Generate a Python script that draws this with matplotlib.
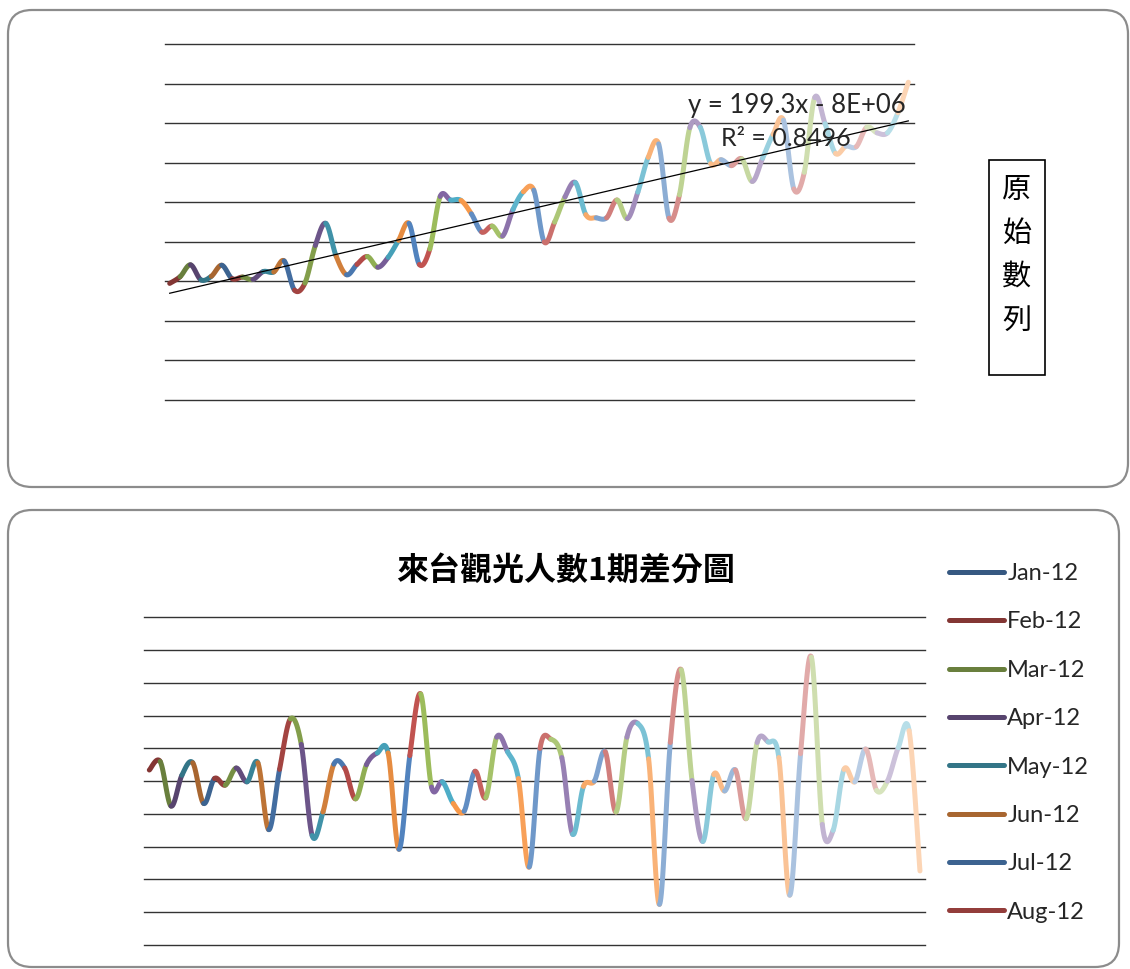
import numpy as np
import pandas as pd
import matplotlib
matplotlib.use("Agg")
import matplotlib.pyplot as plt
from matplotlib.collections import LineCollection
from matplotlib.patches import FancyBboxPatch, Rectangle
from matplotlib.lines import Line2D
from matplotlib.colors import to_rgb

# ---------------------------------------------------------------------------
# Data: monthly visitor arrivals to Taiwan (persons), Jan-2012 onward
# ---------------------------------------------------------------------------
visitors = [
    595000, 612000, 642000, 604000, 613000, 641000, 607000, 611000, 605000, 625000, 624000, 652000,
    578000, 596000, 691000, 747000, 664000, 617000, 643000, 663000, 636000, 661000, 704000, 747000,
    643000, 682000, 815000, 806000, 805000, 771000, 725000, 740000, 715000, 782000, 827000, 831000,
    700000, 750000, 814000, 850000, 769000, 761000, 761000, 806000, 759000, 826000, 914000, 948000,
    760000, 819000, 989000, 990000, 898000, 908000, 893000, 910000, 853000, 912000, 972000, 1008000,
    834000, 876000, 1065000, 999000, 924000, 942000, 941000, 990000, 976000, 976000, 1027000, 1104000,
    967000,
]
n_level = 72                      # months shown in the level chart
months = pd.date_range("2012-01-01", periods=len(visitors), freq="MS")
legend_labels = [d.strftime("%b-%y") for d in months[:8]]

level_ticks = list(range(300000, 1200001, 100000))
diff_ticks = list(range(-250000, 250001, 50000))

trend_text = "y = 199.3x - 8E+06"
r2_text = "R² = 0.8496"
side_label = "原始數列"
diff_title = "來台觀光人數1期差分圖"

# Office accent colours used by "vary colours by point"
accents = ["#4F81BD", "#C0504D", "#9BBB59", "#8064A2", "#4BACC6", "#F79646"]

W, H = 1130, 969
LATIN = ["Lato", "DejaVu Sans"]
CJK = ["Noto Sans CJK TC", "DejaVu Sans"]


def point_color(i, n):
    """Accent colour cycled per point, shaded dark -> light across cycles."""
    base = np.array(to_rgb(accents[i % 6]))
    cycles = (n + 5) // 6
    t = (i // 6) / max(cycles - 1, 1)
    adj = -0.32 + 0.92 * t
    if adj < 0:
        rgb = base * (1 + adj)
    else:
        rgb = base + (1 - base) * adj
    return tuple(np.clip(rgb, 0, 1))


def smooth_segments(y, steps=24):
    """Catmull-Rom style Bezier pieces between consecutive points."""
    y = np.asarray(y, dtype=float)
    n = len(y)
    P = np.column_stack([np.arange(n, dtype=float), y])
    t = np.linspace(0, 1, steps)[:, None]
    segs = []
    for i in range(n - 1):
        p0, p1, p2, p3 = P[max(i - 1, 0)], P[i], P[i + 1], P[min(i + 2, n - 1)]
        c1 = p1 + (p2 - p0) / 6.0
        c2 = p2 - (p3 - p1) / 6.0
        pts = (1 - t) ** 3 * p1 + 3 * (1 - t) ** 2 * t * c1 + 3 * (1 - t) * t ** 2 * c2 + t ** 3 * p2
        segs.append(pts)
    return segs


def colored_line(ax, y, lw=3.6):
    n = len(y)
    segs = smooth_segments(y)
    cols = [point_color(i + 1, n) for i in range(n - 1)]
    lc = LineCollection(segs, colors=cols, linewidths=lw, capstyle="round",
                        joinstyle="round", zorder=3)
    ax.add_collection(lc)


def px_axes(x0, y0, x1, y1):
    return fig.add_axes([x0 / W, 1 - y1 / H, (x1 - x0) / W, (y1 - y0) / H])


def ftext(x, y, s, **kw):
    return fig.text(x / W, 1 - y / H, s, **kw)


fig = plt.figure(figsize=(W / 100, H / 100), dpi=100)
fig.patch.set_facecolor("white")

# panel frames
bg = fig.add_axes([0, 0, 1, 1], zorder=-1)
bg.set_xlim(0, W)
bg.set_ylim(H, 0)
bg.axis("off")
for (x, y, w, h) in [(8, 10, 1120, 477), (8, 510, 1111, 457)]:
    bg.add_patch(FancyBboxPatch((x, y), w, h, boxstyle="round,pad=0,rounding_size=24",
                                fc="white", ec="#8c8c8c", lw=1.6))
bg.add_patch(Rectangle((989, 160), 56, 215, fc="white", ec="black", lw=1.2))

grid_color = "#333333"

# ---------------- level chart ----------------
ax1 = px_axes(164.5, 44.3, 913.5, 400)
ax1.set_xlim(-0.5, n_level - 0.5)
ax1.set_ylim(level_ticks[0], level_ticks[-1])
ax1.axis("off")
for v in level_ticks:
    ax1.axhline(v, color=grid_color, lw=1.0, zorder=1, clip_on=False)
level = visitors[:n_level]
colored_line(ax1, level)

serial = np.array((months[:n_level] - pd.Timestamp("1899-12-30")).days, dtype=float)
coef = np.polyfit(serial, level, 1)
ax1.plot([0, n_level - 1], np.polyval(coef, serial[[0, -1]]), color="black", lw=0.9, zorder=4)

ftext(797, 105, trend_text, ha="center", va="center", fontsize=18.5, color="#262626", family=LATIN)
ftext(786, 139, r2_text, ha="center", va="center", fontsize=18, color="#262626", family=LATIN)

for k, ch in enumerate(side_label):
    ftext(1017, 190 + 43.5 * k, ch, ha="center", va="center", fontsize=21, color="black", family=CJK)

# ---------------- first-difference chart ----------------
diff1 = np.diff(visitors)
ax2 = px_axes(143.9, 617.3, 925.4, 945)
ax2.set_xlim(-0.5, len(diff1) - 0.5)
ax2.set_ylim(diff_ticks[0], diff_ticks[-1])
ax2.axis("off")
for v in diff_ticks:
    ax2.axhline(v, color=grid_color, lw=1.0, zorder=1, clip_on=False)
colored_line(ax2, diff1)

ftext(566, 571, diff_title, ha="center", va="center", fontsize=23, fontweight="bold",
      color="black", family=CJK)

handles = [Line2D([0], [0], color=point_color(i, len(diff1)), lw=3.6, solid_capstyle="round")
           for i in range(len(legend_labels))]
ax2.legend(handles, legend_labels, loc="upper left", bbox_to_anchor=(949 / W, 1 - 563 / H),
           bbox_transform=fig.transFigure, frameon=False, handlelength=2.35,
           handletextpad=0.12, labelspacing=1.16, borderpad=0, borderaxespad=0,
           prop={"family": LATIN, "size": 17}, labelcolor="#262626")

fig.savefig("out.png", dpi=100, facecolor="white")
